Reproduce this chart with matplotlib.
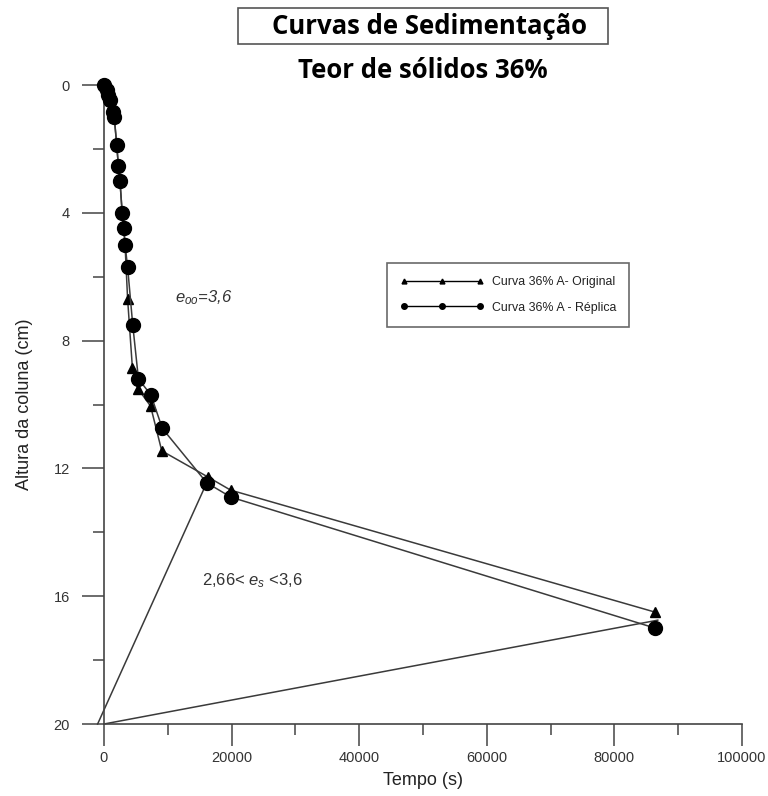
import matplotlib
matplotlib.use("Agg")
import matplotlib.pyplot as plt
from matplotlib.lines import Line2D
from matplotlib.patches import Rectangle

# Settling curves: time (s) vs interface height (cm)
tempo_original = [0, 400, 650, 950, 1400, 1600, 2000, 2250, 2500, 2850, 3100, 3300,
                  3700, 4450, 5300, 7300, 9050, 16300, 19850, 86400]
altura_original = [0, 0.16, 0.3, 0.47, 0.84, 1.0, 1.88, 2.53, 3.0, 4.0, 4.47, 5.0,
                   6.7, 8.85, 9.5, 10.05, 11.45, 12.27, 12.68, 16.5]

tempo_replica = [0, 400, 650, 950, 1400, 1600, 2000, 2250, 2500, 2850, 3100, 3300,
                 3700, 4500, 5400, 7350, 9150, 16100, 19900, 86400]
altura_replica = [0, 0.16, 0.3, 0.47, 0.84, 1.0, 1.88, 2.53, 3.0, 4.0, 4.47, 5.0,
                  5.7, 7.5, 9.2, 9.7, 10.75, 12.45, 12.9, 17.0]

# Construction lines from the column base
reta1_x = [-1000, 16100]
reta1_y = [20, 12.45]
reta2_x = [0, 86800]
reta2_y = [20, 16.75]

x_ticks = [0, 20000, 40000, 60000, 80000, 100000]
x_minor = [10000, 30000, 50000, 70000, 90000]
y_ticks = [0, 4, 8, 12, 16, 20]
y_minor = [2, 6, 10, 14, 18]

plt.rcParams['font.family'] = ['Liberation Sans', 'DejaVu Sans']
plt.rcParams['mathtext.fontset'] = 'custom'
plt.rcParams['mathtext.rm'] = 'Liberation Sans'
plt.rcParams['mathtext.it'] = 'Liberation Sans:italic'

fig = plt.figure(figsize=(7.68, 7.96), dpi=100)
ax = fig.add_axes([104 / 768, 1 - 724 / 796, 638 / 768, 639 / 796])

line_col = '#3a3a3a'
ax.plot(reta1_x, reta1_y, color=line_col, lw=1.1, clip_on=False, zorder=2)
ax.plot(reta2_x, reta2_y, color=line_col, lw=1.1, clip_on=False, zorder=2)

ax.plot(tempo_original, altura_original, color=line_col, lw=1.1, marker='^',
        markersize=7, markerfacecolor='black', markeredgecolor='black',
        clip_on=False, zorder=3)
ax.plot(tempo_replica, altura_replica, color=line_col, lw=1.1, marker='o',
        markersize=10, markerfacecolor='black', markeredgecolor='black',
        clip_on=False, zorder=4)

ax.set_xlim(0, 100000)
ax.set_ylim(20, 0)
ax.set_xticks(x_ticks)
ax.set_xticks(x_minor, minor=True)
ax.set_yticks(y_ticks)
ax.set_yticks(y_minor, minor=True)
ax.set_xticklabels([str(v) for v in x_ticks])
ax.set_yticklabels([str(v) for v in y_ticks])

for side in ['top', 'right']:
    ax.spines[side].set_visible(False)
for side in ['left', 'bottom']:
    ax.spines[side].set_color('#444444')
    ax.spines[side].set_linewidth(1.2)

ax.tick_params(axis='both', which='major', direction='out', length=15.5,
               width=1.1, color='#444444', labelsize=10.5, labelcolor='#333333')
ax.tick_params(axis='both', which='minor', direction='out', length=8,
               width=1.1, color='#444444')
ax.tick_params(axis='y', which='major', pad=9)
ax.tick_params(axis='x', which='major', pad=4)

ax.set_xlabel('Tempo (s)', fontsize=13, color='#222222', labelpad=5)
ax.set_ylabel('Altura da coluna (cm)', fontsize=13, color='#222222', labelpad=15)

ax.text(11100, 6.65, r'$e_{oo}$=3,6', fontsize=12, style='italic',
        color='#333333', va='center', ha='left')
ax.text(15360, 15.5, r'2,66< $e_s$ <3,6', fontsize=12, color='#333333',
        va='center', ha='left')

handles = [
    Line2D([0], [0], color='black', lw=1, marker='^', markersize=3.5,
           markerfacecolor='black'),
    Line2D([0], [0], color='black', lw=1, marker='o', markersize=4,
           markerfacecolor='black'),
]
leg = ax.legend(handles, ['Curva 36% A- Original', 'Curva 36% A - Réplica'],
                loc='upper left', bbox_to_anchor=(0.4436, 0.7214),
                borderaxespad=0, numpoints=3, handlelength=6.8,
                frameon=True, fancybox=False,
                edgecolor='#444444', borderpad=1.05, labelspacing=1.1,
                handletextpad=0.65,
                prop={'size': 8.9})
leg.get_frame().set_linewidth(1.2)
for t in leg.get_texts():
    t.set_color('#222222')

# Title block
fig.patches.append(Rectangle((238 / 768, 1 - 44 / 796), 370 / 768, 36 / 796,
                             transform=fig.transFigure, fill=False,
                             edgecolor='#555555', linewidth=1.2))
fig.text(429 / 768, 1 - 27 / 796, 'Curvas de Sedimentação', ha='center',
         va='center', fontsize=18.5, fontweight='bold',
         family=['Open Sans', 'DejaVu Sans'], color='black')
fig.text(423 / 768, 1 - 70 / 796, 'Teor de sólidos 36%', ha='center',
         va='center', fontsize=18.5, fontweight='bold',
         family=['Open Sans', 'DejaVu Sans'], color='black')

fig.savefig('out.png', dpi=100, facecolor='white')
